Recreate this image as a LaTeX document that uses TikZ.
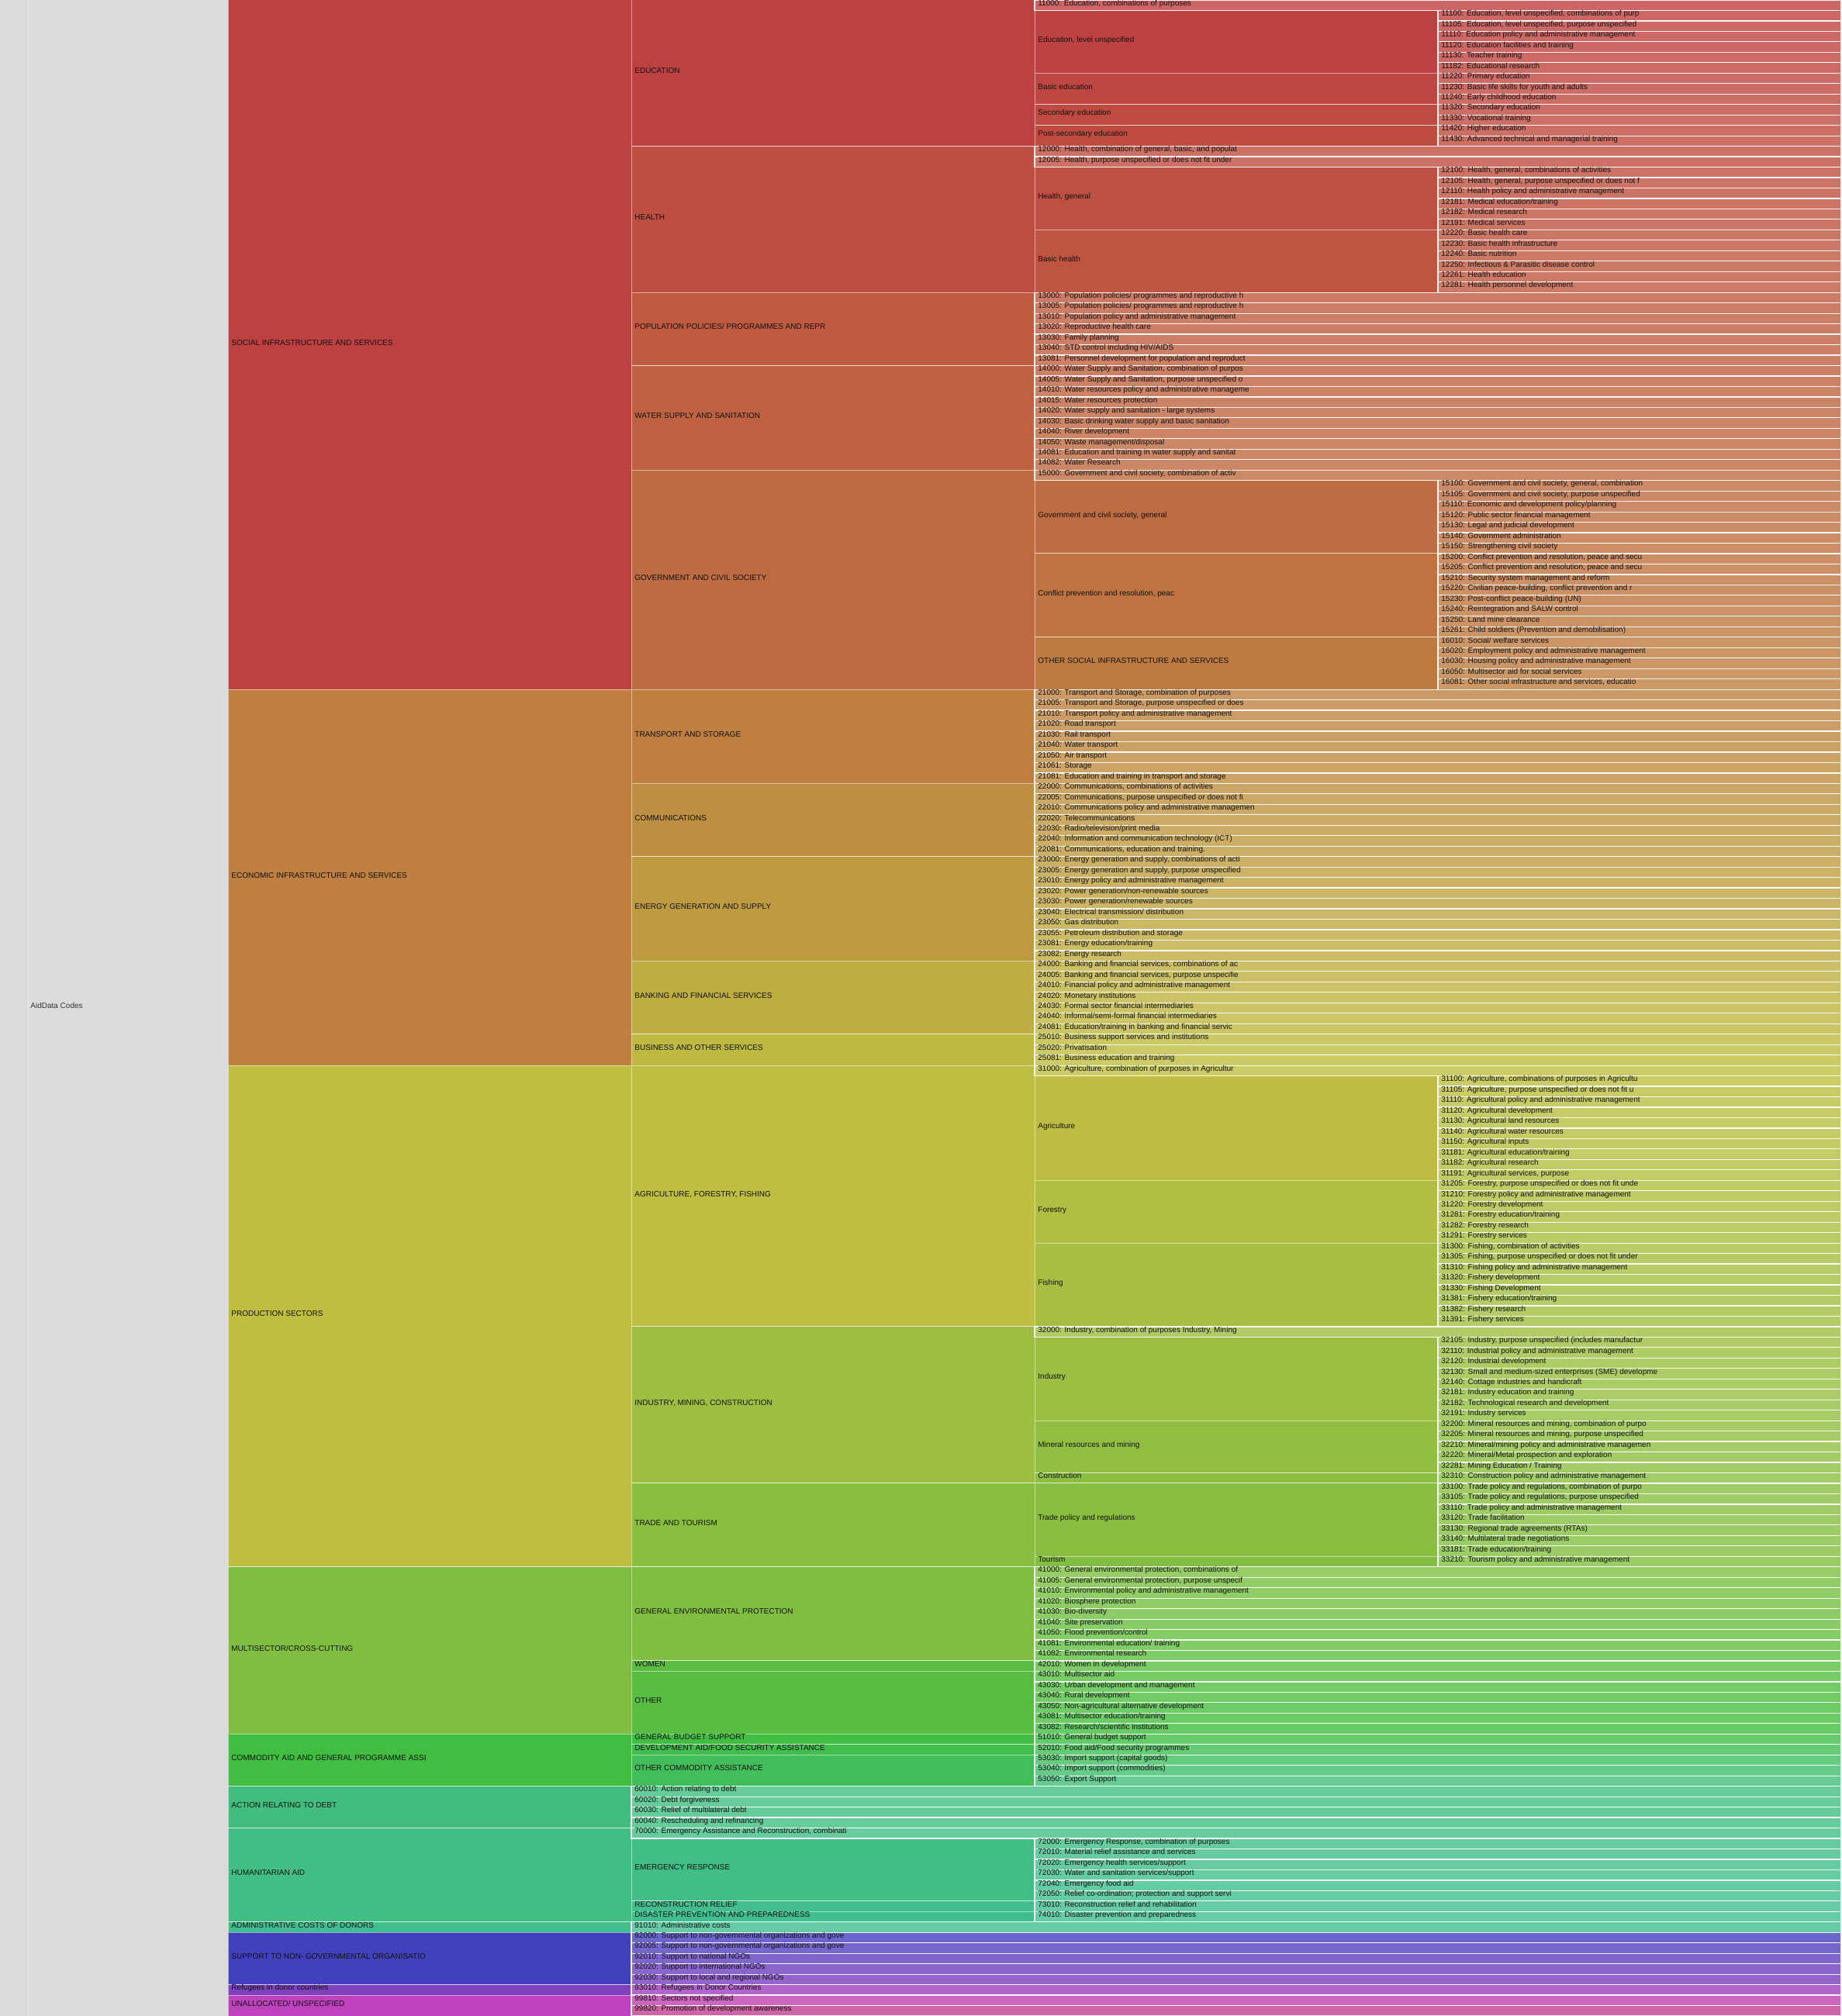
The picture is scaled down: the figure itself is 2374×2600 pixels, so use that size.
\documentclass[tikz,border=0pt]{standalone}
\usepackage{fontspec}
\setmainfont{Liberation Sans}
\usepackage{xcolor}
\definecolor{AIDroot}{HTML}{DCDCDC}
\definecolor{AIDtext}{HTML}{111111}
\usepackage{tikz}

% row height (px) and column width (px)
\def\rowh{13.4715}
\def\colw{520}

% hue range of one sector: base, span, first row, number of rows
\newcommand{\setsector}[4]{%
  \def\secbase{#1}\def\secspan{#2}\def\secfirst{#3}\def\seccount{#4}}

% hue, saturation, brightness -> colour cellfill (in rgb)
\newcommand{\hsbfill}[3]{%
  \convertcolorspec{Hsb}{#1,#2,#3}{rgb}\cellrgb
  \definecolor{cellfill}{rgb}{\cellrgb}}

% inner cell: level, first row, rows, label
\newcommand{\aidbox}[4]{%
  \pgfmathsetmacro\cellhue{\secbase+\secspan*(#2-\secfirst)/\seccount}%
  \hsbfill{\cellhue}{0.66}{0.745}%
  \pgfmathsetmacro\cellx{294+\colw*(#1-1)}%
  \pgfmathsetmacro\celltop{#2*\rowh}%
  \pgfmathsetmacro\cellbot{(#2+#3)*\rowh}%
  \pgfmathsetmacro\cellmid{(#2+#3/2)*\rowh+0.5}%
  \draw[innerbox, fill=cellfill] (\cellx,\celltop) rectangle (\cellx+\colw,\cellbot);%
  \node[aidlbl] (b#1-#2) at (\cellx+4,\cellmid) {#4};%
}

% leaf cell: level, row, label (runs to the right edge)
\newcommand{\aidleaf}[3]{%
  \pgfmathsetmacro\cellhue{\secbase+\secspan*(#2-\secfirst+0.5)/\seccount}%
  \hsbfill{\cellhue}{0.5}{0.8}%
  \pgfmathsetmacro\cellx{294+\colw*(#1-1)}%
  \pgfmathsetmacro\celltop{#2*\rowh}%
  \pgfmathsetmacro\cellbot{(#2+1)*\rowh}%
  \pgfmathsetmacro\cellmid{(#2+0.5)*\rowh+0.5}%
  \draw[leafbox, fill=cellfill] (\cellx,\celltop) rectangle (2374,\cellbot);%
  \node[aidlbl] (leaf#2) at (\cellx+4,\cellmid) {#3};%
}

\begin{document}
\begin{tikzpicture}[x=0.5pt, y=-0.5pt]
  \tikzset{
    innerbox/.style={draw=white, draw opacity=0.5, line width=0.5pt},
    leafbox/.style={draw=white, draw opacity=0.9, line width=0.6pt},
    aidlbl/.style={anchor=base west, inner sep=0pt, text=AIDtext,
      font=\fontsize{5pt}{6pt}\selectfont},
  }
\useasboundingbox (0,0) rectangle (2374,2600);

% ── Root ──────────────────────────────────────────────────────
\fill[AIDroot] (0,0) rectangle (294,2600);
\draw[white, draw opacity=0.3, line width=0.5pt] (36,0) -- (36,2600);
\node[aidlbl, text=black!80] (root) at (39,1300) {AidData Codes};

% ── Social infrastructure and services ───────────────────────
\setsector{0}{30}{0}{66}
\foreach \lv/\rw/\nr/\txt in {
  1/0/66/{SOCIAL INFRASTRUCTURE AND SERVICES},
  2/0/14/{EDUCATION},
  2/14/14/{HEALTH},
  2/28/7/{POPULATION POLICIES/ PROGRAMMES AND REPR},
  2/35/10/{WATER SUPPLY AND SANITATION},
  2/45/21/{GOVERNMENT AND CIVIL SOCIETY},
  3/1/6/{Education, level unspecified},
  3/7/3/{Basic education},
  3/10/2/{Secondary education},
  3/12/2/{Post-secondary education},
  3/16/6/{Health, general},
  3/22/6/{Basic health},
  3/46/7/{Government and civil society, general},
  3/53/8/{Conflict prevention and resolution, peac},
  3/61/5/{OTHER SOCIAL INFRASTRUCTURE AND SERVICES}}{
  \aidbox{\lv}{\rw}{\nr}{\txt}
}
\foreach \lv/\rw/\txt in {
  3/0/{11000: Education, combinations of purposes},
  4/1/{11100: Education, level unspecified, combinations of purp},
  4/2/{11105: Education, level unspecified, purpose unspecified},
  4/3/{11110: Education policy and administrative management},
  4/4/{11120: Education facilities and training},
  4/5/{11130: Teacher training},
  4/6/{11182: Educational research},
  4/7/{11220: Primary education},
  4/8/{11230: Basic life skills for youth and adults},
  4/9/{11240: Early childhood education},
  4/10/{11320: Secondary education},
  4/11/{11330: Vocational training},
  4/12/{11420: Higher education},
  4/13/{11430: Advanced technical and managerial training},
  3/14/{12000: Health, combination of general, basic, and populat},
  3/15/{12005: Health, purpose unspecified or does not fit under},
  4/16/{12100: Health, general, combinations of activities},
  4/17/{12105: Health, general, purpose unspecified or does not f},
  4/18/{12110: Health policy and administrative management},
  4/19/{12181: Medical education/training},
  4/20/{12182: Medical research},
  4/21/{12191: Medical services},
  4/22/{12220: Basic health care},
  4/23/{12230: Basic health infrastructure},
  4/24/{12240: Basic nutrition},
  4/25/{12250: Infectious \& Parasitic disease control},
  4/26/{12261: Health education},
  4/27/{12281: Health personnel development},
  3/28/{13000: Population policies/ programmes and reproductive h},
  3/29/{13005: Population policies/ programmes and reproductive h},
  3/30/{13010: Population policy and administrative management},
  3/31/{13020: Reproductive health care},
  3/32/{13030: Family planning},
  3/33/{13040: STD control including HIV/AIDS},
  3/34/{13081: Personnel development for population and reproduct},
  3/35/{14000: Water Supply and Sanitation, combination of purpos},
  3/36/{14005: Water Supply and Sanitation, purpose unspecified o},
  3/37/{14010: Water resources policy and administrative manageme},
  3/38/{14015: Water resources protection},
  3/39/{14020: Water supply and sanitation - large systems},
  3/40/{14030: Basic drinking water supply and basic sanitation},
  3/41/{14040: River development},
  3/42/{14050: Waste management/disposal},
  3/43/{14081: Education and training in water supply and sanitat},
  3/44/{14082: Water Research},
  3/45/{15000: Government and civil society, combination of activ},
  4/46/{15100: Government and civil society, general, combination},
  4/47/{15105: Government and civil society, purpose unspecified},
  4/48/{15110: Economic and development policy/planning},
  4/49/{15120: Public sector financial management},
  4/50/{15130: Legal and judicial development},
  4/51/{15140: Government administration},
  4/52/{15150: Strengthening civil society},
  4/53/{15200: Conflict prevention and resolution, peace and secu},
  4/54/{15205: Conflict prevention and resolution, peace and secu},
  4/55/{15210: Security system management and reform},
  4/56/{15220: Civilian peace-building, conflict prevention and r},
  4/57/{15230: Post-conflict peace-building (UN)},
  4/58/{15240: Reintegration and SALW control},
  4/59/{15250: Land mine clearance},
  4/60/{15261: Child soldiers (Prevention and demobilisation)},
  4/61/{16010: Social/ welfare services},
  4/62/{16020: Employment policy and administrative management},
  4/63/{16030: Housing policy and administrative management},
  4/64/{16050: Multisector aid for social services},
  4/65/{16081: Other social infrastructure and services, educatio}}{
  \aidleaf{\lv}{\rw}{\txt}
}

% ── Economic infrastructure and services ─────────────────────
\setsector{30}{30}{66}{36}
\foreach \lv/\rw/\nr/\txt in {
  1/66/36/{ECONOMIC INFRASTRUCTURE AND SERVICES},
  2/66/9/{TRANSPORT AND STORAGE},
  2/75/7/{COMMUNICATIONS},
  2/82/10/{ENERGY GENERATION AND SUPPLY},
  2/92/7/{BANKING AND FINANCIAL SERVICES},
  2/99/3/{BUSINESS AND OTHER SERVICES}}{
  \aidbox{\lv}{\rw}{\nr}{\txt}
}
\foreach \lv/\rw/\txt in {
  3/66/{21000: Transport and Storage, combination of purposes},
  3/67/{21005: Transport and Storage, purpose unspecified or does},
  3/68/{21010: Transport policy and administrative management},
  3/69/{21020: Road transport},
  3/70/{21030: Rail transport},
  3/71/{21040: Water transport},
  3/72/{21050: Air transport},
  3/73/{21061: Storage},
  3/74/{21081: Education and training in transport and storage},
  3/75/{22000: Communications, combinations of activities},
  3/76/{22005: Communications, purpose unspecified or does not fi},
  3/77/{22010: Communications policy and administrative managemen},
  3/78/{22020: Telecommunications},
  3/79/{22030: Radio/television/print media},
  3/80/{22040: Information and communication technology (ICT)},
  3/81/{22081: Communications, education and training.},
  3/82/{23000: Energy generation and supply, combinations of acti},
  3/83/{23005: Energy generation and supply, purpose unspecified},
  3/84/{23010: Energy policy and administrative management},
  3/85/{23020: Power generation/non-renewable sources},
  3/86/{23030: Power generation/renewable sources},
  3/87/{23040: Electrical transmission/ distribution},
  3/88/{23050: Gas distribution},
  3/89/{23055: Petroleum distribution and storage},
  3/90/{23081: Energy education/training},
  3/91/{23082: Energy research},
  3/92/{24000: Banking and financial services, combinations of ac},
  3/93/{24005: Banking and financial services, purpose unspecifie},
  3/94/{24010: Financial policy and administrative management},
  3/95/{24020: Monetary institutions},
  3/96/{24030: Formal sector financial intermediaries},
  3/97/{24040: Informal/semi-formal financial intermediaries},
  3/98/{24081: Education/training in banking and financial servic},
  3/99/{25010: Business support services and institutions},
  3/100/{25020: Privatisation},
  3/101/{25081: Business education and training}}{
  \aidleaf{\lv}{\rw}{\txt}
}

% ── Production sectors ───────────────────────────────────────
\setsector{60}{30}{102}{48}
\foreach \lv/\rw/\nr/\txt in {
  1/102/48/{PRODUCTION SECTORS},
  2/102/25/{AGRICULTURE, FORESTRY, FISHING},
  2/127/15/{INDUSTRY, MINING, CONSTRUCTION},
  2/142/8/{TRADE AND TOURISM},
  3/103/10/{Agriculture},
  3/113/6/{Forestry},
  3/119/8/{Fishing},
  3/128/8/{Industry},
  3/136/5/{Mineral resources and mining},
  3/141/1/{Construction},
  3/142/7/{Trade policy and regulations},
  3/149/1/{Tourism}}{
  \aidbox{\lv}{\rw}{\nr}{\txt}
}
\foreach \lv/\rw/\txt in {
  3/102/{31000: Agriculture, combination of purposes in Agricultur},
  4/103/{31100: Agriculture, combinations of purposes in Agricultu},
  4/104/{31105: Agriculture, purpose unspecified or does not fit u},
  4/105/{31110: Agricultural policy and administrative management},
  4/106/{31120: Agricultural development},
  4/107/{31130: Agricultural land resources},
  4/108/{31140: Agricultural water resources},
  4/109/{31150: Agricultural inputs},
  4/110/{31181: Agricultural education/training},
  4/111/{31182: Agricultural research},
  4/112/{31191: Agricultural services, purpose},
  4/113/{31205: Forestry, purpose unspecified or does not fit unde},
  4/114/{31210: Forestry policy and administrative management},
  4/115/{31220: Forestry development},
  4/116/{31281: Forestry education/training},
  4/117/{31282: Forestry research},
  4/118/{31291: Forestry services},
  4/119/{31300: Fishing, combination of activities},
  4/120/{31305: Fishing, purpose unspecified or does not fit under},
  4/121/{31310: Fishing policy and administrative management},
  4/122/{31320: Fishery development},
  4/123/{31330: Fishing Development},
  4/124/{31381: Fishery education/training},
  4/125/{31382: Fishery research},
  4/126/{31391: Fishery services},
  3/127/{32000: Industry, combination of purposes Industry, Mining},
  4/128/{32105: Industry, purpose unspecified (includes manufactur},
  4/129/{32110: Industrial policy and administrative management},
  4/130/{32120: Industrial development},
  4/131/{32130: Small and medium-sized enterprises (SME) developme},
  4/132/{32140: Cottage industries and handicraft},
  4/133/{32181: Industry education and training},
  4/134/{32182: Technological research and development},
  4/135/{32191: Industry services},
  4/136/{32200: Mineral resources and mining, combination of purpo},
  4/137/{32205: Mineral resources and mining, purpose unspecified},
  4/138/{32210: Mineral/mining policy and administrative managemen},
  4/139/{32220: Mineral/Metal prospection and exploration},
  4/140/{32281: Mining Education / Training},
  4/141/{32310: Construction policy and administrative management},
  4/142/{33100: Trade policy and regulations, combination of purpo},
  4/143/{33105: Trade policy and regulations, purpose unspecified},
  4/144/{33110: Trade policy and administrative management},
  4/145/{33120: Trade facilitation},
  4/146/{33130: Regional trade agreements (RTAs)},
  4/147/{33140: Multilateral trade negotiations},
  4/148/{33181: Trade education/training},
  4/149/{33210: Tourism policy and administrative management}}{
  \aidleaf{\lv}{\rw}{\txt}
}

% ── Multisector / cross-cutting ──────────────────────────────
\setsector{90}{30}{150}{16}
\foreach \lv/\rw/\nr/\txt in {
  1/150/16/{MULTISECTOR/CROSS-CUTTING},
  2/150/9/{GENERAL ENVIRONMENTAL PROTECTION},
  2/159/1/{WOMEN},
  2/160/6/{OTHER}}{
  \aidbox{\lv}{\rw}{\nr}{\txt}
}
\foreach \lv/\rw/\txt in {
  3/150/{41000: General environmental protection, combinations of},
  3/151/{41005: General environmental protection, purpose unspecif},
  3/152/{41010: Environmental policy and administrative management},
  3/153/{41020: Biosphere protection},
  3/154/{41030: Bio-diversity},
  3/155/{41040: Site preservation},
  3/156/{41050: Flood prevention/control},
  3/157/{41081: Environmental education/ training},
  3/158/{41082: Environmental research},
  3/159/{42010: Women in development},
  3/160/{43010: Multisector aid},
  3/161/{43030: Urban development and management},
  3/162/{43040: Rural development},
  3/163/{43050: Non-agricultural alternative development},
  3/164/{43081: Multisector education/training},
  3/165/{43082: Research/scientific institutions}}{
  \aidleaf{\lv}{\rw}{\txt}
}

% ── Commodity aid ────────────────────────────────────────────
\setsector{120}{30}{166}{5}
\foreach \lv/\rw/\nr/\txt in {
  1/166/5/{COMMODITY AID AND GENERAL PROGRAMME ASSI},
  2/166/1/{GENERAL BUDGET SUPPORT},
  2/167/1/{DEVELOPMENT AID/FOOD SECURITY ASSISTANCE},
  2/168/3/{OTHER COMMODITY ASSISTANCE}}{
  \aidbox{\lv}{\rw}{\nr}{\txt}
}
\foreach \lv/\rw/\txt in {
  3/166/{51010: General budget support},
  3/167/{52010: Food aid/Food security programmes},
  3/168/{53030: Import support (capital goods)},
  3/169/{53040: Import support (commodities)},
  3/170/{53050: Export Support}}{
  \aidleaf{\lv}{\rw}{\txt}
}

% ── Action relating to debt ──────────────────────────────────
\setsector{150}{2}{171}{4}
\aidbox{1}{171}{4}{ACTION RELATING TO DEBT}
\foreach \lv/\rw/\txt in {
  2/171/{60010: Action relating to debt},
  2/172/{60020: Debt forgiveness},
  2/173/{60030: Relief of multilateral debt},
  2/174/{60040: Rescheduling and refinancing}}{
  \aidleaf{\lv}{\rw}{\txt}
}

% ── Humanitarian aid ─────────────────────────────────────────
\setsector{152}{6}{175}{9}
\foreach \lv/\rw/\nr/\txt in {
  1/175/9/{HUMANITARIAN AID},
  2/176/6/{EMERGENCY RESPONSE},
  2/182/1/{RECONSTRUCTION RELIEF},
  2/183/1/{DISASTER PREVENTION AND PREPAREDNESS}}{
  \aidbox{\lv}{\rw}{\nr}{\txt}
}
\foreach \lv/\rw/\txt in {
  2/175/{70000: Emergency Assistance and Reconstruction, combinati},
  3/176/{72000: Emergency Response, combination of purposes},
  3/177/{72010: Material relief assistance and services},
  3/178/{72020: Emergency health services/support},
  3/179/{72030: Water and sanitation services/support},
  3/180/{72040: Emergency food aid},
  3/181/{72050: Relief co-ordination; protection and support servi},
  3/182/{73010: Reconstruction relief and rehabilitation},
  3/183/{74010: Disaster prevention and preparedness}}{
  \aidleaf{\lv}{\rw}{\txt}
}

% ── Administrative costs ─────────────────────────────────────
\setsector{157}{2}{184}{1}
\aidbox{1}{184}{1}{ADMINISTRATIVE COSTS OF DONORS}
\aidleaf{2}{184}{91010: Administrative costs}

% ── Support to NGOs ──────────────────────────────────────────
\setsector{240}{30}{185}{5}
\aidbox{1}{185}{5}{SUPPORT TO NON- GOVERNMENTAL ORGANISATIO}
\foreach \lv/\rw/\txt in {
  2/185/{92000: Support to non-governmental organizations and gove},
  2/186/{92005: Support to non-governmental organizations and gove},
  2/187/{92010: Support to national NGOs},
  2/188/{92020: Support to international NGOs},
  2/189/{92030: Support to local and regional NGOs}}{
  \aidleaf{\lv}{\rw}{\txt}
}

% ── Refugees / unallocated ───────────────────────────────────
\setsector{270}{30}{190}{1}
\aidbox{1}{190}{1}{Refugees in donor countries}
\aidleaf{2}{190}{93010: Refugees in Donor Countries}

\setsector{300}{30}{191}{2}
\aidbox{1}{191}{2}{UNALLOCATED/ UNSPECIFIED}
\aidleaf{2}{191}{99810: Sectors not specified}
\aidleaf{2}{192}{99820: Promotion of development awareness}

\end{tikzpicture}
\end{document}
